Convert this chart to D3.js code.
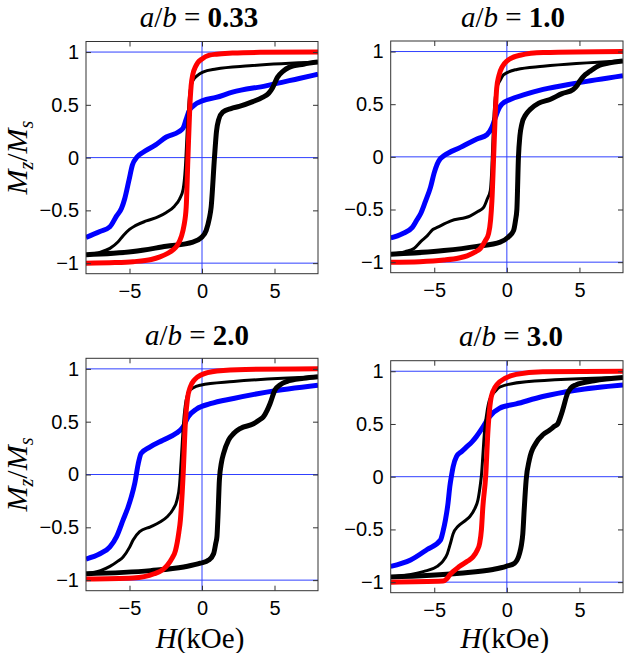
<!DOCTYPE html>
<html lang="en">
<head>
  <meta charset="UTF-8">
  <title>Mz/Ms hysteresis panels</title>
  <script src="https://cdn.jsdelivr.net/npm/d3@7"></script>
  <style>
    body { margin: 0; background: #fff; }
    .tick text { font-family: "Liberation Sans", Arial, sans-serif; font-size: 20px; fill: #000; }
    .tick line { stroke: #333; }
    text.title, text.label, text.title tspan, text.label tspan { font-family: "Liberation Serif", "Times New Roman", serif; fill: #000; }
  </style>
</head>
<body>
<script>
// values: H (kOe), Mz/Ms
const ratios = ["0.33", "1.0", "2.0", "3.0"];
const xTicks = [-5, 0, 5];
const yTicks = [-1, -0.5, 0, 0.5, 1];
const refY = [-1, 0, 1];

const blue033 = [[-8,-0.756],[-7.04,-0.70],[-6.35,-0.655],[-5.9,-0.555],[-5.55,-0.48],[-5.33,-0.39],[-5.03,-0.21],[-4.8,-0.07],[-4.48,0.005],[-4.06,0.05],[-3.2,0.12],[-2.46,0.195],[-1.6,0.245],[-1.3,0.28],[-1.1,0.36],[-0.9,0.44],[-0.6,0.49],[0.06,0.54],[0.97,0.57],[2.1,0.62],[4.4,0.68],[6.7,0.75],[8,0.79]];
const red033 = [[-8,-1.0],[-6,-0.995],[-4.75,-0.986],[-3.5,-0.965],[-2.9,-0.94],[-2.4,-0.91],[-2.0,-0.875],[-1.7,-0.83],[-1.43,-0.75],[-1.25,-0.65],[-1.09,-0.47],[-0.97,0],[-0.85,0.45],[-0.75,0.68],[-0.63,0.79],[-0.45,0.86],[-0.29,0.9],[0,0.935],[0.51,0.97],[1,0.98],[2.1,0.99],[4,0.997],[8,1.0]];
const thick033 = [[-8,-0.92],[-4.75,-0.89],[-2.46,-0.84],[-0.63,-0.80],[-0.06,-0.76],[0.29,-0.69],[0.5,-0.58],[0.63,-0.47],[0.86,0],[1.0,0.25],[1.15,0.36],[1.43,0.43],[2.0,0.465],[2.57,0.485],[3.5,0.53],[4.17,0.57],[4.6,0.61],[4.86,0.66],[5.2,0.76],[5.6,0.82],[6.0,0.855],[7,0.885],[8,0.905]];
const thin033 = [[-8,-0.92],[-7,-0.895],[-6.35,-0.86],[-5.8,-0.8],[-5.44,-0.74],[-5.0,-0.68],[-4.6,-0.645],[-3.84,-0.6],[-3,-0.56],[-2.46,-0.52],[-1.9,-0.46],[-1.54,-0.39],[-1.3,-0.3],[-1.15,-0.1],[-1.0,0.3],[-0.85,0.6],[-0.63,0.73],[-0.3,0.78],[0.06,0.81],[0.97,0.84],[3.26,0.87],[8,0.905]];

const blue10 = [[-8,-0.77],[-7.2,-0.73],[-6.51,-0.67],[-6.2,-0.60],[-5.94,-0.54],[-5.6,-0.42],[-5.26,-0.29],[-5.0,-0.15],[-4.8,-0.07],[-4.6,-0.02],[-4.34,0.01],[-3.2,0.09],[-2.06,0.17],[-1.37,0.21],[-1.03,0.28],[-0.8,0.37],[-0.5,0.47],[-0.34,0.50],[0.23,0.545],[1.2,0.59],[2.5,0.64],[4.8,0.70],[8,0.77]];
const red10 = [[-8,-1.0],[-6,-0.995],[-4.34,-0.98],[-3.3,-0.96],[-2.74,-0.94],[-2.2,-0.905],[-1.83,-0.87],[-1.5,-0.8],[-1.26,-0.73],[-1.12,-0.6],[-1.03,-0.42],[-0.91,0],[-0.8,0.4],[-0.7,0.65],[-0.55,0.77],[-0.3,0.86],[0,0.91],[0.91,0.965],[2.5,0.99],[8,1.0]];
const thick10 = [[-8,-0.925],[-4.34,-0.89],[-2.06,-0.85],[-0.46,-0.81],[0.11,-0.76],[0.46,-0.70],[0.6,-0.6],[0.69,-0.5],[0.8,0],[0.9,0.2],[1.03,0.31],[1.3,0.4],[1.6,0.45],[2.2,0.51],[2.97,0.545],[3.8,0.6],[4.57,0.64],[4.85,0.68],[5.03,0.72],[5.4,0.78],[5.7,0.81],[6.4,0.87],[7,0.89],[8,0.91]];
const thin10 = [[-8,-0.925],[-7,-0.9],[-6.4,-0.87],[-5.9,-0.8],[-5.49,-0.75],[-5.1,-0.69],[-4.8,-0.67],[-3.89,-0.61],[-2.51,-0.56],[-2.0,-0.52],[-1.6,-0.48],[-1.35,-0.4],[-1.14,-0.32],[-1.03,-0.1],[-0.92,0.3],[-0.8,0.56],[-0.69,0.655],[-0.45,0.73],[-0.23,0.78],[0.69,0.83],[2.5,0.86],[8,0.91]];

const blue20 = [[-8,-0.80],[-7.04,-0.75],[-6.35,-0.685],[-5.9,-0.59],[-5.44,-0.43],[-5.1,-0.31],[-4.87,-0.21],[-4.64,-0.085],[-4.4,0.10],[-4.2,0.20],[-3.6,0.26],[-2.7,0.325],[-1.78,0.39],[-1.3,0.45],[-0.96,0.545],[-0.37,0.62],[0.57,0.67],[2.17,0.72],[4.46,0.78],[8,0.845]];
const red20 = [[-8,-0.99],[-4.75,-0.98],[-3.3,-0.94],[-2.7,-0.9],[-2.4,-0.86],[-2.05,-0.79],[-1.83,-0.72],[-1.6,-0.55],[-1.49,-0.43],[-1.3,0],[-1.14,0.51],[-1.0,0.72],[-0.8,0.83],[-0.5,0.9],[-0.11,0.94],[1.03,0.98],[3,0.995],[8,1.0]];
const thick20 = [[-8,-0.94],[-3.55,-0.91],[-1.26,-0.875],[-0.11,-0.84],[0.46,-0.81],[0.8,-0.75],[0.95,-0.65],[1.03,-0.59],[1.1,-0.4],[1.2,-0.05],[1.35,0.12],[1.49,0.20],[1.83,0.325],[2.2,0.39],[2.63,0.435],[3.55,0.48],[4.0,0.52],[4.23,0.545],[4.5,0.61],[4.69,0.67],[5.03,0.80],[5.4,0.85],[5.84,0.88],[7,0.91],[8,0.925]];
const thin20 = [[-8,-0.94],[-7,-0.91],[-6.35,-0.87],[-5.8,-0.82],[-5.44,-0.78],[-5.0,-0.69],[-4.75,-0.62],[-4.3,-0.54],[-3.55,-0.495],[-2.9,-0.45],[-2.4,-0.40],[-2.0,-0.33],[-1.72,-0.24],[-1.55,-0.1],[-1.45,0.1],[-1.26,0.51],[-1.1,0.7],[-0.92,0.78],[-0.6,0.82],[-0.11,0.845],[2.17,0.88],[8,0.925]];

const blue30 = [[-8,-0.85],[-6.63,-0.79],[-5.49,-0.69],[-4.57,-0.60],[-4.4,-0.52],[-4.23,-0.41],[-4.05,-0.25],[-3.93,-0.095],[-3.8,0.02],[-3.7,0.095],[-3.47,0.19],[-3.1,0.24],[-2.79,0.28],[-2.4,0.33],[-2.1,0.38],[-1.65,0.47],[-1.19,0.57],[-0.5,0.65],[0.64,0.69],[2.47,0.76],[4.75,0.82],[8,0.87]];
const red30 = [[-8,-1.0],[-4.39,-0.99],[-4.15,-0.97],[-3.93,-0.93],[-3.25,-0.85],[-2.7,-0.8],[-2.33,-0.76],[-2.05,-0.7],[-1.87,-0.63],[-1.75,-0.5],[-1.65,-0.28],[-1.46,0],[-1.3,0.44],[-1.07,0.76],[-0.8,0.85],[-0.5,0.90],[0.64,0.97],[2.47,0.995],[8,1.0]];
const thick30 = [[-8,-0.95],[-3.25,-0.915],[-0.96,-0.88],[-0.05,-0.85],[0.53,-0.82],[0.87,-0.73],[1.0,-0.65],[1.1,-0.54],[1.2,-0.3],[1.33,-0.03],[1.55,0.16],[2.01,0.32],[2.5,0.4],[2.93,0.44],[3.3,0.48],[3.5,0.50],[3.7,0.57],[3.84,0.63],[4.18,0.79],[4.4,0.84],[4.75,0.87],[6,0.91],[8,0.94]];
const thin30 = [[-8,-0.95],[-5.76,-0.90],[-4.8,-0.85],[-4.4,-0.8],[-4.1,-0.73],[-3.9,-0.64],[-3.7,-0.54],[-3.36,-0.47],[-2.9,-0.42],[-2.56,-0.38],[-2.2,-0.3],[-1.99,-0.22],[-1.85,-0.1],[-1.76,0],[-1.53,0.44],[-1.35,0.63],[-1.19,0.73],[-0.8,0.81],[-0.5,0.85],[1.33,0.90],[8,0.94]];

const seriesByPanel = [
  {blue: blue033, red: red033, thick: thick033, thin: thin033},
  {blue: blue10, red: red10, thick: thick10, thin: thin10},
  {blue: blue20, red: red20, thick: thick20, thin: thin20},
  {blue: blue30, red: red30, thick: thick30, thin: thin30}
];

// panel boxes in page pixels
const panels = [
  {x0: 86, x1: 318, y0: 41.5, y1: 273.7, tx: 199, ty: 27, ylab: true, xlab: false},
  {x0: 390.7, x1: 623, y0: 41, y1: 272.7, tx: 513, ty: 27, ylab: false, xlab: false},
  {x0: 86, x1: 318, y0: 358.3, y1: 590.7, tx: 197, ty: 345, ylab: true, xlab: true},
  {x0: 390.7, x1: 623, y0: 360.7, y1: 592.7, tx: 511, ty: 346, ylab: false, xlab: true}
];

const serif = '"Liberation Serif", "Times New Roman", serif';

const svg = d3.select("body").append("svg")
  .attr("width", 627)
  .attr("height", 653);

const line = (x, y) => d3.line()
  .x(d => x(d[0]))
  .y(d => y(d[1]))
  .curve(d3.curveMonotoneX);

panels.forEach((p, i) => {
  const x = d3.scaleLinear().domain([-8, 8]).range([p.x0, p.x1]);
  const y = d3.scaleLinear().domain([-1.1, 1.1]).range([p.y1, p.y0]);
  const g = svg.append("g").attr("class", "panel");
  const clipId = "clip" + i;

  g.append("clipPath").attr("id", clipId)
    .append("rect")
    .attr("x", p.x0).attr("y", p.y0)
    .attr("width", p.x1 - p.x0).attr("height", p.y1 - p.y0);

  const plot = g.append("g").attr("clip-path", `url(#${clipId})`);

  // blue reference lines
  plot.selectAll("line.ref")
    .data(refY)
    .enter().append("line")
    .attr("class", "ref")
    .attr("x1", p.x0).attr("x2", p.x1)
    .attr("y1", d => y(d)).attr("y2", d => y(d))
    .attr("stroke", "#3040ff").attr("stroke-width", 1);
  plot.append("line")
    .attr("x1", x(0)).attr("x2", x(0))
    .attr("y1", p.y0).attr("y2", p.y1)
    .attr("stroke", "#3040ff").attr("stroke-width", 1);

  const s = seriesByPanel[i];
  const path = line(x, y);
  plot.append("path").attr("d", path(s.blue))
    .attr("fill", "none").attr("stroke", "#0000ff").attr("stroke-width", 5);
  plot.append("path").attr("d", path(s.thick))
    .attr("fill", "none").attr("stroke", "#000").attr("stroke-width", 5);
  plot.append("path").attr("d", path(s.thin))
    .attr("fill", "none").attr("stroke", "#000").attr("stroke-width", 3);
  plot.append("path").attr("d", path(s.red))
    .attr("fill", "none").attr("stroke", "#ff0000").attr("stroke-width", 5);

  // axes, ticks pointing inward on every side
  const fmt = d3.format("~g");
  g.append("g")
    .attr("transform", `translate(0,${p.y1})`)
    .call(d3.axisBottom(x).tickValues(xTicks).tickSize(-5).tickPadding(10).tickFormat(fmt))
    .call(a => a.select(".domain").remove());
  g.append("g")
    .attr("transform", `translate(${p.x0},0)`)
    .call(d3.axisLeft(y).tickValues(yTicks).tickSize(-5).tickPadding(7).tickFormat(fmt))
    .call(a => a.select(".domain").remove());
  g.append("g")
    .attr("transform", `translate(0,${p.y0})`)
    .call(d3.axisTop(x).tickValues(xTicks).tickSize(-5).tickFormat(""))
    .call(a => a.select(".domain").remove());
  g.append("g")
    .attr("transform", `translate(${p.x1},0)`)
    .call(d3.axisRight(y).tickValues(yTicks).tickSize(-5).tickFormat(""))
    .call(a => a.select(".domain").remove());

  g.append("rect")
    .attr("x", p.x0).attr("y", p.y0)
    .attr("width", p.x1 - p.x0).attr("height", p.y1 - p.y0)
    .attr("fill", "none").attr("stroke", "#333").attr("stroke-width", 1);

  // title  a/b = value
  const t = g.append("text")
    .attr("class", "title")
    .attr("x", p.tx).attr("y", p.ty)
    .attr("text-anchor", "middle")
    .attr("font-family", serif)
    .style("font-size", "29px");
  t.append("tspan").style("font-style", "italic").text("a");
  t.append("tspan").text("/");
  t.append("tspan").style("font-style", "italic").text("b");
  t.append("tspan").text(" = ");
  t.append("tspan").style("font-weight", "bold").text(ratios[i]);

  if (p.ylab) {
    const cy = (p.y0 + p.y1) / 2;
    const yl = g.append("text")
      .attr("class", "label")
      .attr("transform", `translate(27,${cy}) rotate(-90)`)
      .attr("text-anchor", "middle")
      .attr("font-family", serif)
      .style("font-size", "30px");
    yl.append("tspan").style("font-style", "italic").text("M");
    yl.append("tspan").style("font-style", "italic").style("font-size", "20px").attr("dy", 6).text("z");
    yl.append("tspan").attr("dy", -6).text("/");
    yl.append("tspan").style("font-style", "italic").text("M");
    yl.append("tspan").style("font-style", "italic").style("font-size", "20px").attr("dy", 6).text("s");
  }

  if (p.xlab) {
    const xl = g.append("text")
      .attr("class", "label")
      .attr("x", (p.x0 + p.x1) / 2 - 2).attr("y", 648)
      .attr("text-anchor", "middle")
      .attr("font-family", serif)
      .style("font-size", "29px");
    xl.append("tspan").style("font-style", "italic").text("H");
    xl.append("tspan").text("(kOe)");
  }
});
</script>
</body>
</html>
